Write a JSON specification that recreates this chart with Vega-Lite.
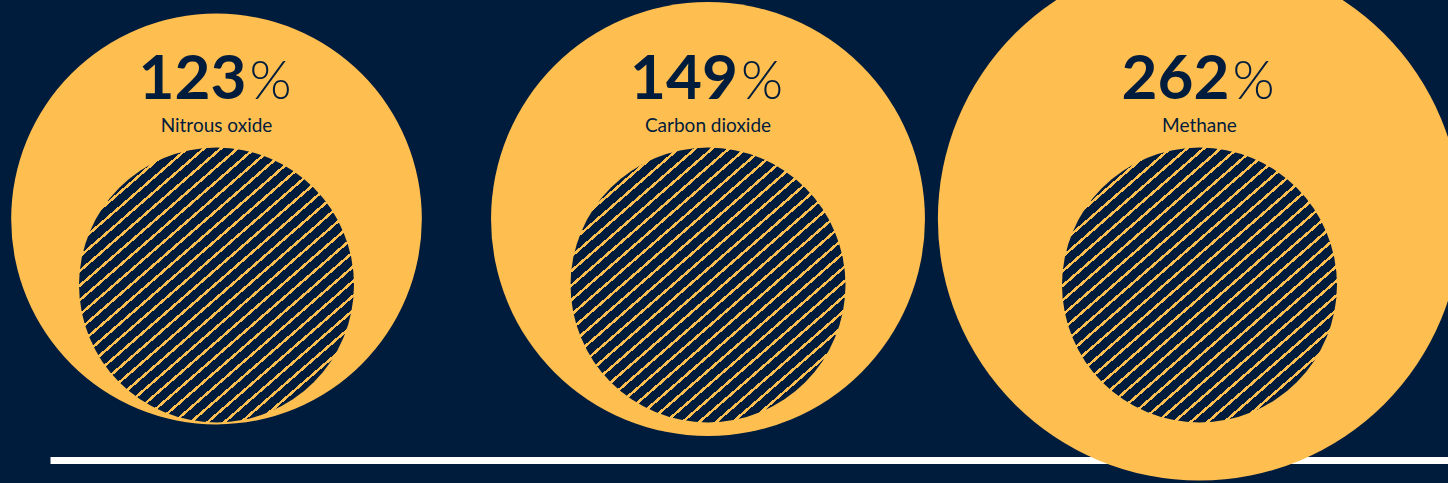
{
  "$schema": "https://vega.github.io/schema/vega-lite/v6.json",
  "width": 1398,
  "height": 438,
  "autosize": "none",
  "padding": {"left": 50, "top": 0, "right": 0, "bottom": 45},
  "background": "#001C3D",
  "config": {"view": {"stroke": null}},
  "data": {"values": [
    {"gas": "Nitrous oxide", "pct": 123},
    {"gas": "Carbon dioxide", "pct": 149},
    {"gas": "Methane", "pct": 262}
  ]},
  "encoding": {
    "x": {
      "field": "gas", "type": "nominal", "sort": null,
      "scale": {"type": "point", "padding": 0.4222, "align": 0.4012, "round": false},
      "axis": {"title": null, "labels": false, "ticks": false, "grid": false, "domainColor": "#FFFFFF", "domainWidth": 7, "domainCap": "butt", "offset": 22}
    }
  },
  "layer": [
    {
      "mark": {"type": "point", "shape": "circle", "filled": true, "opacity": 1, "fill": "#FFBE50", "strokeWidth": 0},
      "encoding": {
        "size": {"field": "pct", "type": "quantitative", "scale": {"type": "linear", "domain": [0, 100], "range": [75625, 151250], "zero": false}, "legend": null}
      }
    },
    {
      "mark": {"type": "point", "shape": "circle", "filled": true, "opacity": 1, "strokeWidth": 0, "yOffset": 66,
        "fill": {"gradient": "linear", "x1": 0.028, "y1": -0.0435, "x2": 0.972, "y2": 1.0435, "stops": [
          {"offset": 0, "color": "#001C3D"}, {"offset": 0.0213, "color": "#001C3D"}, {"offset": 0.0213, "color": "#FFBE50"}, {"offset": 0.0278, "color": "#FFBE50"},
          {"offset": 0.0278, "color": "#001C3D"}, {"offset": 0.0491, "color": "#001C3D"}, {"offset": 0.0491, "color": "#FFBE50"}, {"offset": 0.0556, "color": "#FFBE50"},
          {"offset": 0.0556, "color": "#001C3D"}, {"offset": 0.0769, "color": "#001C3D"}, {"offset": 0.0769, "color": "#FFBE50"}, {"offset": 0.0833, "color": "#FFBE50"},
          {"offset": 0.0833, "color": "#001C3D"}, {"offset": 0.1046, "color": "#001C3D"}, {"offset": 0.1046, "color": "#FFBE50"}, {"offset": 0.1111, "color": "#FFBE50"},
          {"offset": 0.1111, "color": "#001C3D"}, {"offset": 0.1324, "color": "#001C3D"}, {"offset": 0.1324, "color": "#FFBE50"}, {"offset": 0.1389, "color": "#FFBE50"},
          {"offset": 0.1389, "color": "#001C3D"}, {"offset": 0.1602, "color": "#001C3D"}, {"offset": 0.1602, "color": "#FFBE50"}, {"offset": 0.1667, "color": "#FFBE50"},
          {"offset": 0.1667, "color": "#001C3D"}, {"offset": 0.1880, "color": "#001C3D"}, {"offset": 0.1880, "color": "#FFBE50"}, {"offset": 0.1944, "color": "#FFBE50"},
          {"offset": 0.1944, "color": "#001C3D"}, {"offset": 0.2157, "color": "#001C3D"}, {"offset": 0.2157, "color": "#FFBE50"}, {"offset": 0.2222, "color": "#FFBE50"},
          {"offset": 0.2222, "color": "#001C3D"}, {"offset": 0.2435, "color": "#001C3D"}, {"offset": 0.2435, "color": "#FFBE50"}, {"offset": 0.2500, "color": "#FFBE50"},
          {"offset": 0.2500, "color": "#001C3D"}, {"offset": 0.2713, "color": "#001C3D"}, {"offset": 0.2713, "color": "#FFBE50"}, {"offset": 0.2778, "color": "#FFBE50"},
          {"offset": 0.2778, "color": "#001C3D"}, {"offset": 0.2991, "color": "#001C3D"}, {"offset": 0.2991, "color": "#FFBE50"}, {"offset": 0.3056, "color": "#FFBE50"},
          {"offset": 0.3056, "color": "#001C3D"}, {"offset": 0.3269, "color": "#001C3D"}, {"offset": 0.3269, "color": "#FFBE50"}, {"offset": 0.3333, "color": "#FFBE50"},
          {"offset": 0.3333, "color": "#001C3D"}, {"offset": 0.3546, "color": "#001C3D"}, {"offset": 0.3546, "color": "#FFBE50"}, {"offset": 0.3611, "color": "#FFBE50"},
          {"offset": 0.3611, "color": "#001C3D"}, {"offset": 0.3824, "color": "#001C3D"}, {"offset": 0.3824, "color": "#FFBE50"}, {"offset": 0.3889, "color": "#FFBE50"},
          {"offset": 0.3889, "color": "#001C3D"}, {"offset": 0.4102, "color": "#001C3D"}, {"offset": 0.4102, "color": "#FFBE50"}, {"offset": 0.4167, "color": "#FFBE50"},
          {"offset": 0.4167, "color": "#001C3D"}, {"offset": 0.4380, "color": "#001C3D"}, {"offset": 0.4380, "color": "#FFBE50"}, {"offset": 0.4444, "color": "#FFBE50"},
          {"offset": 0.4444, "color": "#001C3D"}, {"offset": 0.4657, "color": "#001C3D"}, {"offset": 0.4657, "color": "#FFBE50"}, {"offset": 0.4722, "color": "#FFBE50"},
          {"offset": 0.4722, "color": "#001C3D"}, {"offset": 0.4935, "color": "#001C3D"}, {"offset": 0.4935, "color": "#FFBE50"}, {"offset": 0.5000, "color": "#FFBE50"},
          {"offset": 0.5000, "color": "#001C3D"}, {"offset": 0.5213, "color": "#001C3D"}, {"offset": 0.5213, "color": "#FFBE50"}, {"offset": 0.5278, "color": "#FFBE50"},
          {"offset": 0.5278, "color": "#001C3D"}, {"offset": 0.5491, "color": "#001C3D"}, {"offset": 0.5491, "color": "#FFBE50"}, {"offset": 0.5556, "color": "#FFBE50"},
          {"offset": 0.5556, "color": "#001C3D"}, {"offset": 0.5769, "color": "#001C3D"}, {"offset": 0.5769, "color": "#FFBE50"}, {"offset": 0.5833, "color": "#FFBE50"},
          {"offset": 0.5833, "color": "#001C3D"}, {"offset": 0.6046, "color": "#001C3D"}, {"offset": 0.6046, "color": "#FFBE50"}, {"offset": 0.6111, "color": "#FFBE50"},
          {"offset": 0.6111, "color": "#001C3D"}, {"offset": 0.6324, "color": "#001C3D"}, {"offset": 0.6324, "color": "#FFBE50"}, {"offset": 0.6389, "color": "#FFBE50"},
          {"offset": 0.6389, "color": "#001C3D"}, {"offset": 0.6602, "color": "#001C3D"}, {"offset": 0.6602, "color": "#FFBE50"}, {"offset": 0.6667, "color": "#FFBE50"},
          {"offset": 0.6667, "color": "#001C3D"}, {"offset": 0.6880, "color": "#001C3D"}, {"offset": 0.6880, "color": "#FFBE50"}, {"offset": 0.6944, "color": "#FFBE50"},
          {"offset": 0.6944, "color": "#001C3D"}, {"offset": 0.7157, "color": "#001C3D"}, {"offset": 0.7157, "color": "#FFBE50"}, {"offset": 0.7222, "color": "#FFBE50"},
          {"offset": 0.7222, "color": "#001C3D"}, {"offset": 0.7435, "color": "#001C3D"}, {"offset": 0.7435, "color": "#FFBE50"}, {"offset": 0.7500, "color": "#FFBE50"},
          {"offset": 0.7500, "color": "#001C3D"}, {"offset": 0.7713, "color": "#001C3D"}, {"offset": 0.7713, "color": "#FFBE50"}, {"offset": 0.7778, "color": "#FFBE50"},
          {"offset": 0.7778, "color": "#001C3D"}, {"offset": 0.7991, "color": "#001C3D"}, {"offset": 0.7991, "color": "#FFBE50"}, {"offset": 0.8056, "color": "#FFBE50"},
          {"offset": 0.8056, "color": "#001C3D"}, {"offset": 0.8269, "color": "#001C3D"}, {"offset": 0.8269, "color": "#FFBE50"}, {"offset": 0.8333, "color": "#FFBE50"},
          {"offset": 0.8333, "color": "#001C3D"}, {"offset": 0.8546, "color": "#001C3D"}, {"offset": 0.8546, "color": "#FFBE50"}, {"offset": 0.8611, "color": "#FFBE50"},
          {"offset": 0.8611, "color": "#001C3D"}, {"offset": 0.8824, "color": "#001C3D"}, {"offset": 0.8824, "color": "#FFBE50"}, {"offset": 0.8889, "color": "#FFBE50"},
          {"offset": 0.8889, "color": "#001C3D"}, {"offset": 0.9102, "color": "#001C3D"}, {"offset": 0.9102, "color": "#FFBE50"}, {"offset": 0.9167, "color": "#FFBE50"},
          {"offset": 0.9167, "color": "#001C3D"}, {"offset": 0.9380, "color": "#001C3D"}, {"offset": 0.9380, "color": "#FFBE50"}, {"offset": 0.9444, "color": "#FFBE50"},
          {"offset": 0.9444, "color": "#001C3D"}, {"offset": 0.9657, "color": "#001C3D"}, {"offset": 0.9657, "color": "#FFBE50"}, {"offset": 0.9722, "color": "#FFBE50"},
          {"offset": 0.9722, "color": "#001C3D"}, {"offset": 0.9935, "color": "#001C3D"}, {"offset": 0.9935, "color": "#FFBE50"}, {"offset": 1, "color": "#FFBE50"}
        ]}},
      "encoding": {
        "size": {"datum": 0, "type": "quantitative"}
      }
    },
    {
      "mark": {"type": "text", "font": "Lato", "fontWeight": "bold", "fontSize": 62, "color": "#001C3D", "align": "right", "baseline": "alphabetic", "dx": 30, "dy": -120},
      "encoding": {"text": {"field": "pct", "type": "quantitative"}}
    },
    {
      "mark": {"type": "text", "font": "Lato", "fontWeight": 300, "fontSize": 54, "color": "#001C3D", "align": "left", "baseline": "alphabetic", "dx": 33, "dy": -120},
      "encoding": {"text": {"value": "%"}}
    },
    {
      "mark": {"type": "text", "font": "Lato", "fontSize": 19, "color": "#001C3D", "align": "center", "baseline": "alphabetic", "dy": -87},
      "encoding": {"text": {"field": "gas", "type": "nominal"}}
    }
  ]
}
